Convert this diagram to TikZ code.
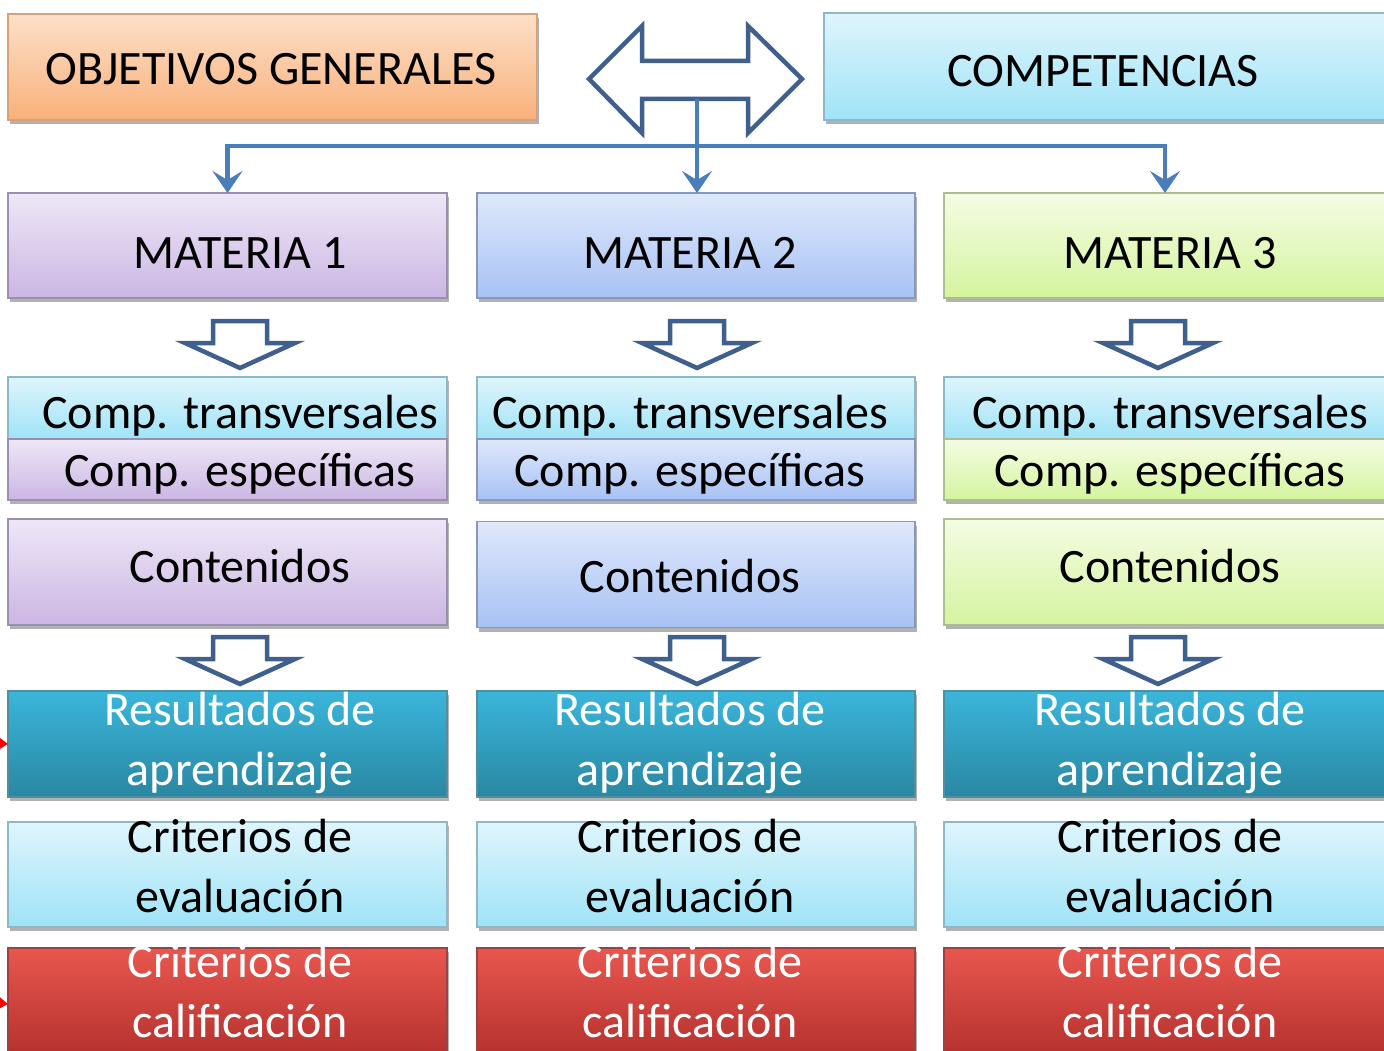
\documentclass[tikz,border=0pt]{standalone}
\usepackage{fontspec}
\setmainfont{Carlito}
\usetikzlibrary{arrows.meta,shadows}
\definecolor{naranjaT}{HTML}{FDE0C8}\definecolor{naranjaB}{HTML}{F8B07A}\definecolor{naranjaL}{HTML}{D6A27C}
\definecolor{cianT}{HTML}{DFF5FC}\definecolor{cianB}{HTML}{9FE3F7}\definecolor{cianL}{HTML}{8DB9C6}
\definecolor{lilaT}{HTML}{EEE7F7}\definecolor{lilaB}{HTML}{CBB6E3}\definecolor{lilaL}{HTML}{9890AC}
\definecolor{azulT}{HTML}{DFE8FB}\definecolor{azulB}{HTML}{A7C2F4}\definecolor{azulL}{HTML}{8898BC}
\definecolor{verdeT}{HTML}{F5FCE4}\definecolor{verdeB}{HTML}{D4F49E}\definecolor{verdeL}{HTML}{AEBC92}
\definecolor{tealT}{HTML}{3AB6DB}\definecolor{tealB}{HTML}{2A87A2}\definecolor{tealL}{HTML}{4E8FA0}
\definecolor{rojoT}{HTML}{E8574F}\definecolor{rojoB}{HTML}{B32F2C}\definecolor{rojoL}{HTML}{A04040}
\definecolor{enlace}{HTML}{4A7EBB}
\definecolor{contorno}{HTML}{3F5F8C}
\tikzset{
    box/.style={draw=#1, line width=1.5pt, inner sep=0pt, outer sep=0pt,
        drop shadow={shadow xshift=2pt, shadow yshift=-4pt, opacity=0.3, fill=black}},
    txt/.style={font=\fontsize{48}{60}\selectfont, anchor=base, inner sep=0pt, align=center},
    link/.style={draw=enlace, line width=4.5pt, -{Stealth[length=22pt, width=30pt, inset=9pt]}},
    hollow/.style={draw=contorno, line width=4.5pt, fill=white, line join=miter},
}

\begin{document}
\begin{tikzpicture}[x=1pt,y=-1pt]
    \useasboundingbox (0,0) rectangle (1384,1051);
    \clip (0,0) rectangle (1384,1051);
    % arriba
    \node[box=naranjaL, top color=naranjaT, bottom color=naranjaB, minimum width=529pt, minimum height=106pt] (obj) at (272.5,67) {};
    \node[txt] (objt) at (271,85) {OBJETIVOS GENERALES};
    \node[box=cianL, top color=cianT, bottom color=cianB, minimum width=570pt, minimum height=107pt] (comp) at (1109,66.5) {};
    \node[txt] (compt) at (1103,87) {COMPETENCIAS};
    \draw[hollow] (589,79) -- (642,26) -- (642,61) -- (748,61) -- (748,26) -- (802,79) -- (748,133)
        -- (748,99) -- (642,99) -- (642,133) -- cycle;
    \coordinate (dbl) at (697,99);
    \coordinate (hub) at (697,146);
    % columnas
    \foreach \i/\xl/\xr/\tx/\c/\cy/\cb in {1/8/447/240/lila/572/582, 2/477/915/690/azul/574.5/592, 3/944/1386/1170/verde/572/582}{
        \pgfmathsetmacro\xm{(\xl+\xr)/2}
        \pgfmathsetmacro\w{\xr-\xl}
        \node[box=\c L, top color=\c T, bottom color=\c B, minimum width=\w pt, minimum height=105pt] (mat\i) at (\xm,245.5) {};
        \node[txt] (matt\i) at (\tx,268) {MATERIA \i};
        \node[box=cianL, top color=cianT, bottom color=cianB, minimum width=\w pt, minimum height=62pt] (tra\i) at (\xm,408) {};
        \node[txt] (trat\i) at (\tx,428) {Comp. transversales};
        \node[box=\c L, top color=\c T, bottom color=\c B, minimum width=\w pt, minimum height=61pt] (esp\i) at (\xm,469.5) {};
        \node[txt] (espt\i) at (\tx,486) {Comp. específicas};
        \node[box=\c L, top color=\c T, bottom color=\c B, minimum width=\w pt, minimum height=106pt] (con\i) at (\xm,\cy) {};
        \node[txt] (cont\i) at (\tx,\cb) {Contenidos};
        \node[box=tealL, top color=tealT, bottom color=tealB, minimum width=\w pt, minimum height=106pt] (res\i) at (\xm,744) {};
        \node[txt, white] (rest\i) at (\tx,785) {Resultados de\\aprendizaje};
        \node[box=cianL, top color=cianT, bottom color=cianB, minimum width=\w pt, minimum height=105pt] (eva\i) at (\xm,874.5) {};
        \node[txt] (evat\i) at (\tx,912) {Criterios de\\evaluación};
        \node[box=rojoL, top color=rojoT, bottom color=rojoB, minimum width=\w pt, minimum height=112pt] (cal\i) at (\xm,1004) {};
        \node[txt, white] (calt\i) at (\tx,1037) {Criterios de\\calificación};
    }
    % flechas huecas
    \foreach \x in {240,697,1158}{
        \foreach \y in {321,637}{
            \draw[hollow] (\x-27,\y) -- (\x+27,\y) -- (\x+27,\y+22) -- (\x+55,\y+22) -- (\x,\y+47)
                -- (\x-55,\y+22) -- (\x-27,\y+22) -- cycle;
        }
    }
    % enlaces
    \draw[link] (dbl) -- (dbl |- mat2.north);
    \draw[link] (hub) -| (mat1.north);
    \draw[link] (hub) -| (mat3.north);
    \coordinate (in1) at (-30,742);
    \coordinate (in2) at (-30,1000);
    \draw[red, line width=2pt, -{Triangle[length=10pt, width=13pt]}] (in1) -- (res1.west);
    \draw[red, line width=2pt, -{Triangle[length=10pt, width=13pt]}] (in2) -- (cal1.west);
\end{tikzpicture}
\end{document}
